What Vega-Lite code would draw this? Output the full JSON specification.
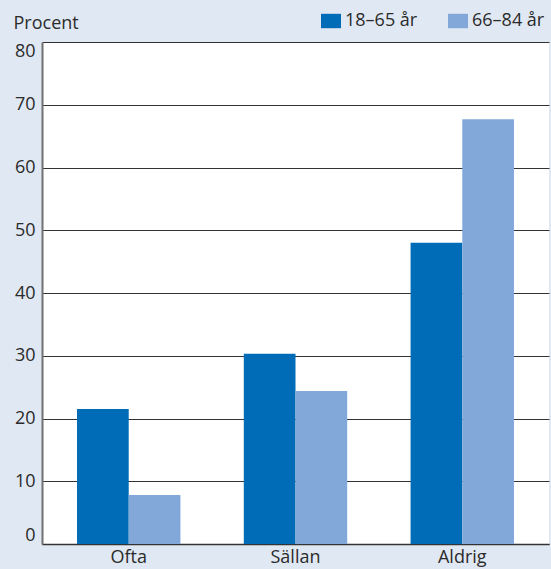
{
  "$schema": "https://vega.github.io/schema/vega-lite/v6.json",
  "autosize": {"type": "none"},
  "width": 507,
  "height": 502,
  "padding": {"left": 42, "top": 42, "right": 2, "bottom": 25},
  "background": "#e0e8f3",
  "config": {
    "view": {"fill": "white", "stroke": null},
    "font": "Open Sans"
  },
  "data": {
    "values": [
      {"kategori": "Ofta", "grupp": "18–65 år", "procent": 21.5},
      {"kategori": "Ofta", "grupp": "66–84 år", "procent": 7.8},
      {"kategori": "Sällan", "grupp": "18–65 år", "procent": 30.3},
      {"kategori": "Sällan", "grupp": "66–84 år", "procent": 24.4},
      {"kategori": "Aldrig", "grupp": "18–65 år", "procent": 48.0},
      {"kategori": "Aldrig", "grupp": "66–84 år", "procent": 67.7}
    ]
  },
  "mark": {"type": "bar"},
  "encoding": {
    "x": {
      "field": "kategori",
      "type": "nominal",
      "sort": ["Ofta", "Sällan", "Aldrig"],
      "scale": {"paddingInner": 0.38, "paddingOuter": 0.21},
      "axis": {
        "title": null,
        "labelAngle": 0,
        "labelFontSize": 18,
        "labelColor": "#2b2b2b",
        "labelPadding": 4,
        "ticks": false,
        "domainColor": "#333333",
        "domainWidth": 1.5
      }
    },
    "xOffset": {"field": "grupp", "type": "nominal", "sort": ["18–65 år", "66–84 år"]},
    "y": {
      "field": "procent",
      "type": "quantitative",
      "scale": {"domain": [0, 80], "nice": false},
      "axis": {
        "title": "Procent",
        "titleAngle": 0,
        "titleAlign": "left",
        "titleBaseline": "alphabetic",
        "titleX": -29,
        "titleY": -14,
        "titleFontSize": 18,
        "titleFontWeight": "normal",
        "titleColor": "#2b2b2b",
        "values": [0, 10, 20, 30, 40, 50, 60, 70, 80],
        "labelFontSize": 18,
        "labelColor": "#2b2b2b",
        "labelPadding": 7,
        "labelFlush": true,
        "labelFlushOffset": 0,
        "ticks": false,
        "grid": true,
        "gridColor": "#333333",
        "gridWidth": 1,
        "gridOpacity": 1,
        "domainColor": "#707070",
        "domainWidth": 2
      }
    },
    "color": {
      "field": "grupp",
      "type": "nominal",
      "scale": {"domain": ["18–65 år", "66–84 år"], "range": ["#006cb7", "#82a8da"]},
      "legend": {
        "title": null,
        "orient": "none",
        "direction": "horizontal",
        "legendX": 279,
        "legendY": -31,
        "symbolType": "M-1,-0.72H1V0.72H-1Z",
        "symbolSize": 400,
        "symbolStrokeWidth": 0,
        "symbolOpacity": 1,
        "labelFontSize": 18,
        "labelColor": "#2b2b2b",
        "labelOffset": 4,
        "columnPadding": 30
      }
    }
  }
}
